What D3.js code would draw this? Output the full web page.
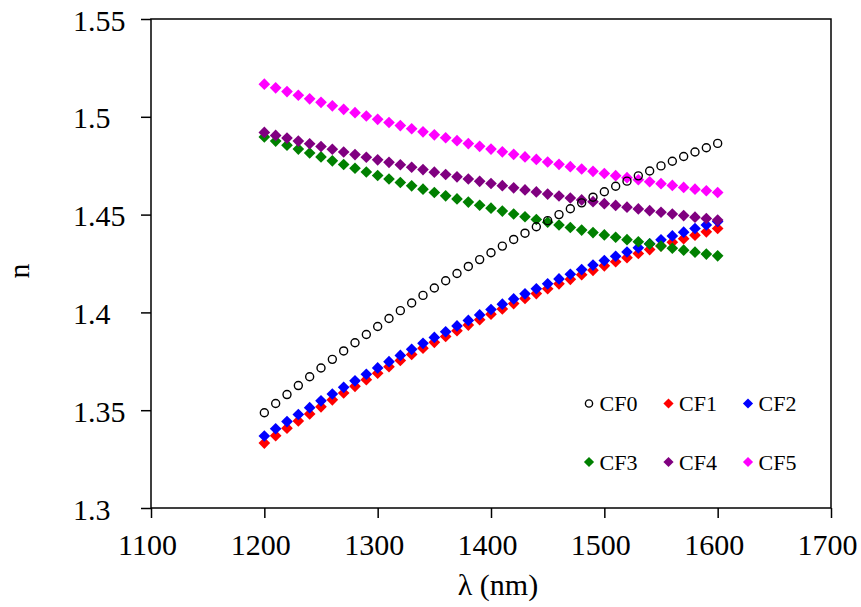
<!DOCTYPE html>
<html>
<head>
<meta charset="utf-8">
<script src="https://cdn.jsdelivr.net/npm/d3@7"></script>
<style>
  html, body { margin: 0; padding: 0; background: #ffffff; }
  svg { display: block; }
  text { font-family: "Liberation Serif", "Times New Roman", serif; fill: #000; }
</style>
</head>
<body>
<svg id="chart" width="861" height="607"></svg>
<script>
// Wavelength samples (nm)
const wavelengths = [
  1200, 1210, 1220, 1230, 1240, 1250, 1260, 1270, 1280, 1290,
  1300, 1310, 1320, 1330, 1340, 1350, 1360, 1370, 1380, 1390,
  1400, 1410, 1420, 1430, 1440, 1450, 1460, 1470, 1480, 1490,
  1500, 1510, 1520, 1530, 1540, 1550, 1560, 1570, 1580, 1590, 1600
];

// Refractive index n for each sample
const cf0 = [
  1.3487, 1.3534, 1.3580, 1.3626, 1.3671, 1.3716, 1.3760, 1.3803, 1.3845, 1.3887,
  1.3928, 1.3969, 1.4009, 1.4048, 1.4087, 1.4125, 1.4162, 1.4199, 1.4235, 1.4270,
  1.4305, 1.4339, 1.4373, 1.4405, 1.4438, 1.4469, 1.4500, 1.4530, 1.4560, 1.4589,
  1.4617, 1.4645, 1.4671, 1.4698, 1.4723, 1.4749, 1.4773, 1.4797, 1.4820, 1.4842, 1.4864
];
const cf1 = [
  1.3332, 1.3370, 1.3408, 1.3445, 1.3481, 1.3517, 1.3553, 1.3588, 1.3622, 1.3656,
  1.3689, 1.3722, 1.3754, 1.3785, 1.3817, 1.3847, 1.3877, 1.3906, 1.3935, 1.3963,
  1.3991, 1.4018, 1.4045, 1.4071, 1.4096, 1.4121, 1.4146, 1.4169, 1.4193, 1.4215,
  1.4238, 1.4259, 1.4280, 1.4301, 1.4321, 1.4340, 1.4359, 1.4377, 1.4395, 1.4412, 1.4429
];
const cf2 = [
  1.3368, 1.3405, 1.3442, 1.3478, 1.3513, 1.3548, 1.3583, 1.3617, 1.3650, 1.3684,
  1.3716, 1.3748, 1.3780, 1.3811, 1.3842, 1.3872, 1.3901, 1.3931, 1.3959, 1.3987,
  1.4015, 1.4042, 1.4069, 1.4095, 1.4121, 1.4146, 1.4171, 1.4195, 1.4219, 1.4242,
  1.4265, 1.4287, 1.4309, 1.4330, 1.4351, 1.4371, 1.4391, 1.4410, 1.4429, 1.4447, 1.4465
];
const cf3 = [
  1.4897, 1.4876, 1.4855, 1.4835, 1.4815, 1.4795, 1.4775, 1.4756, 1.4737, 1.4718,
  1.4700, 1.4682, 1.4664, 1.4647, 1.4630, 1.4613, 1.4596, 1.4580, 1.4564, 1.4548,
  1.4533, 1.4518, 1.4503, 1.4489, 1.4475, 1.4461, 1.4447, 1.4434, 1.4421, 1.4408,
  1.4396, 1.4384, 1.4372, 1.4361, 1.4350, 1.4339, 1.4328, 1.4318, 1.4308, 1.4298, 1.4289
];
const cf4 = [
  1.4920, 1.4905, 1.4891, 1.4876, 1.4862, 1.4848, 1.4834, 1.4820, 1.4807, 1.4793,
  1.4780, 1.4767, 1.4755, 1.4742, 1.4730, 1.4717, 1.4705, 1.4693, 1.4682, 1.4670,
  1.4659, 1.4648, 1.4637, 1.4626, 1.4616, 1.4605, 1.4595, 1.4585, 1.4575, 1.4566,
  1.4556, 1.4547, 1.4538, 1.4529, 1.4520, 1.4512, 1.4503, 1.4495, 1.4487, 1.4480, 1.4472
];
const cf5 = [
  1.5167, 1.5148, 1.5129, 1.5110, 1.5092, 1.5074, 1.5056, 1.5038, 1.5021, 1.5004,
  1.4987, 1.4971, 1.4955, 1.4939, 1.4923, 1.4908, 1.4893, 1.4878, 1.4863, 1.4849,
  1.4835, 1.4821, 1.4808, 1.4795, 1.4782, 1.4769, 1.4757, 1.4745, 1.4733, 1.4721,
  1.4710, 1.4699, 1.4689, 1.4678, 1.4668, 1.4658, 1.4649, 1.4639, 1.4630, 1.4622, 1.4613
];

const seriesNames = ["CF0", "CF1", "CF2", "CF3", "CF4", "CF5"];
const seriesValues = [cf0, cf1, cf2, cf3, cf4, cf5];
const seriesColors = ["#000000", "#ff0000", "#0000ff", "#008000", "#800080", "#ff00ff"];

const xTicks = [1100, 1200, 1300, 1400, 1500, 1600, 1700];
const yTicks = [1.3, 1.35, 1.4, 1.45, 1.5, 1.55];
const xTitle = "λ (nm)";
const yTitle = "n";

// ---- layout ----
const svg = d3.select("#chart");
const plot = { left: 151, right: 831, top: 19, bottom: 508 };

const x = d3.scaleLinear().domain([1100, 1700]).range([plot.left, plot.right]);
const y = d3.scaleLinear().domain([1.3, 1.55]).range([plot.bottom, plot.top]);

// frame around the plot area
svg.append("rect")
  .attr("x", plot.left).attr("y", plot.top)
  .attr("width", plot.right - plot.left)
  .attr("height", plot.bottom - plot.top)
  .attr("fill", "none")
  .attr("stroke", "#000")
  .attr("stroke-width", 1.5);

// y axis: outward ticks, labels left-aligned
const yAxis = svg.append("g")
  .attr("transform", `translate(${plot.left},0)`)
  .call(d3.axisLeft(y).tickValues(yTicks).tickSize(10).tickSizeOuter(0)
    .tickFormat(d => String(+d.toFixed(2))));
yAxis.select(".domain").remove();
yAxis.selectAll(".tick line").attr("stroke", "#000").attr("stroke-width", 1.5);
yAxis.selectAll(".tick text")
  .attr("x", 73 - plot.left)
  .attr("dy", "0.37em")
  .attr("text-anchor", "start")
  .style("font-family", "'Liberation Serif', serif")
  .style("font-size", "30px")
  .attr("fill", "#000");

// x axis
const xAxis = svg.append("g")
  .attr("transform", `translate(0,${plot.bottom})`)
  .call(d3.axisBottom(x).tickValues(xTicks).tickSize(10).tickSizeOuter(0)
    .tickFormat(d3.format("d")));
xAxis.select(".domain").remove();
xAxis.selectAll(".tick line").attr("stroke", "#000").attr("stroke-width", 1.5);
xAxis.selectAll(".tick text")
  .attr("y", 47)
  .attr("dy", 0)
  .attr("dx", -4)
  .style("font-family", "'Liberation Serif', serif")
  .style("font-size", "30px")
  .attr("fill", "#000");

// axis titles
svg.append("text")
  .attr("x", 498).attr("y", 595)
  .attr("text-anchor", "middle")
  .style("font-size", "30px")
  .text(xTitle);

svg.append("text")
  .attr("transform", "translate(29,271) rotate(-90)")
  .attr("text-anchor", "middle")
  .style("font-size", "30px")
  .text(yTitle);

// ---- markers ----
const diamond = size => d3.symbol(d3.symbolSquare, size)();

function drawMarker(g, i, cx, cy, big) {
  if (i === 0) {
    g.append("circle")
      .attr("cx", cx).attr("cy", cy)
      .attr("r", big ? 4 : 3.6)
      .attr("fill", "none")
      .attr("stroke", "#000")
      .attr("stroke-width", 1.4);
  } else {
    g.append("path")
      .attr("d", diamond(big ? 68 : 52))
      .attr("transform", `translate(${cx},${cy}) rotate(45)`)
      .attr("fill", seriesColors[i]);
  }
}

// filled series first, open-circle series on top
const drawOrder = [1, 2, 3, 4, 5, 0];
drawOrder.forEach(i => {
  const g = svg.append("g").attr("class", "series-" + seriesNames[i]);
  seriesValues[i].forEach((v, k) => {
    drawMarker(g, i, x(wavelengths[k]), y(v), true);
  });
});

// ---- legend (two rows of three) ----
const legend = svg.append("g").attr("class", "legend");
const legendCols = [589, 668.5, 748];
const legendRows = [403.5, 462];
seriesNames.forEach((name, i) => {
  const cx = legendCols[i % 3];
  const cy = legendRows[Math.floor(i / 3)];
  drawMarker(legend, i, cx, cy, false);
  legend.append("text")
    .attr("x", cx + 10.5)
    .attr("y", cy + 7.5)
    .style("font-size", "22px")
    .text(name);
});
</script>
</body>
</html>
